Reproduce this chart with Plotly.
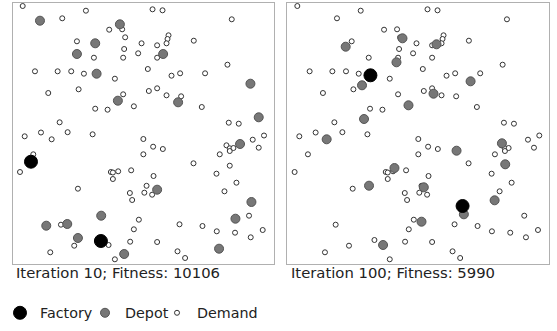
import plotly.graph_objects as go

# Map coordinates (same customer/demand locations in both iterations)
demand_x = [9.7, 49.3, 73, 96.3, 109.3, 112.3, 64, 128.7, 111.3, 81, 110.3, 125.3, 135, 22, 44.7, 58.3, 71, 102,
            65.7, 35.3, 136, 110.3, 121, 82.3, 94.7, 46.7, 28, 54.7, 79.7, 11.7, 139.7, 149.7, 219, 155.7, 154.7,
            153.7, 144.3, 181, 144.3, 158.7, 167.3, 192.3, 214.7, 144.3, 153.7, 168.3, 189, 216, 226, 251.3, 38.7,
            130.5, 20.3, 7, 130.5, 98, 100, 105.3, 118.3, 100, 65, 133.7, 117, 131.5, 119.3, 126, 48, 121, 95.7,
            61.3, 117.3, 37.3, 102, 140.3, 150, 180.7, 213.7, 217, 217, 220.7, 240, 246, 207, 217, 203.7, 223.7,
            140.7, 139.3, 211.7, 236.3, 166.7, 189.7, 204, 222.3, 238, 250, 144.3, 164.7, 172.3, 86.7]
demand_y = [258, 245.7, 253.3, 234.3, 234.7, 226.7, 222.7, 220.7, 215, 206.3, 206.3, 210.7, 195, 192.7, 192.7,
            192.7, 190.3, 185.3, 174.7, 171, 173, 169.7, 157.7, 155.3, 154.3, 141.7, 131.5, 131.8, 129.7, 127.7,
            254.7, 253.7, 244.7, 228.7, 225, 220.7, 218.7, 223.3, 206.3, 188.3, 190.7, 190.7, 199.3, 175.7, 168.7,
            167.7, 157, 141.3, 140.3, 128.5, 124.7, 125, 109.7, 92, 109.7, 92, 91.5, 92.7, 93.7, 85, 75.3, 78.2, 71,
            71.3, 64, 44.3, 39.3, 34.7, 19, 18.3, 22.3, 11.7, 4.7, 117.3, 115, 100.7, 118.7, 115.7, 113, 116, 124.3,
            116.3, 109.7, 98.3, 90.3, 81.3, 88, 69.3, 72.7, 48.3, 39.7, 38, 32.7, 31.3, 26.7, 34, 22, 12.7, 6, 24]

# Iteration 10
depot10_x = [27, 107, 82.3, 64, 83.7, 105, 150.3, 237.7, 165.3, 246, 88.3, 33.3, 54.3, 65, 111.3, 227.3, 144.3,
             238.7, 222.7, 206.3]
depot10_y = [243.3, 239.7, 220.7, 210, 190.3, 163.3, 210, 180.3, 161.7, 146.7, 48.3, 38.3, 40, 26, 10, 120, 74.3,
             62, 45.3, 15.3]
factory10_x = [18, 88]
factory10_y = [102.3, 23]

# Iteration 100
depot100_x = [58, 114.7, 108.7, 74.3, 120.7, 76.3, 148.7, 182.7, 145.7, 39, 106.7, 81.3, 136, 133.7, 95.3, 168.7,
              214, 217.3, 206.7, 176]
depot100_y = [217.3, 225.7, 201.7, 178.7, 158.7, 145, 219.7, 182.7, 170.3, 124.7, 96, 78.3, 76.7, 42.3, 19, 113.3,
              120.7, 99.7, 63.7, 49.7]
factory100_x = [82.7, 174.7]
factory100_y = [188.7, 58]

titles = ["Iteration 10; Fitness: 10106", "Iteration 100; Fitness: 5990"]

FONT = "DejaVu Sans"
fig = go.Figure()

panels = [
    ("x", "y", depot10_x, depot10_y, factory10_x, factory10_y, True),
    ("x2", "y2", depot100_x, depot100_y, factory100_x, factory100_y, False),
]
for xa, ya, dx, dy, fx, fy, show in panels:
    fig.add_trace(go.Scatter(x=demand_x, y=demand_y, mode="markers", name="Demand", xaxis=xa, yaxis=ya,
                             showlegend=show, legend="legend3",
                             marker=dict(size=5, color="white", line=dict(color="#333333", width=1))))
    fig.add_trace(go.Scatter(x=dx, y=dy, mode="markers", name="Depot", xaxis=xa, yaxis=ya,
                             showlegend=show, legend="legend2",
                             marker=dict(size=9, color="#777777", line=dict(color="#555555", width=1))))
    fig.add_trace(go.Scatter(x=fx, y=fy, mode="markers", name="Factory", xaxis=xa, yaxis=ya,
                             showlegend=show, legend="legend",
                             marker=dict(size=13, color="black", line=dict(color="black", width=1))))

W, H = 557, 331
ax_common = dict(showgrid=False, zeroline=False, showticklabels=False, ticks="", showline=True, mirror=True,
                 linecolor="#b0b0b0", linewidth=1, fixedrange=True)
ydom = [(H - 264) / H, (H - 3) / H]
leg_common = dict(orientation="h", xanchor="left", y=(H - 313) / H, yanchor="middle",
                  font=dict(family=FONT, size=14.3, color="#222222"), itemsizing="trace",
                  bgcolor="rgba(0,0,0,0)")
fig.update_layout(
    width=W, height=H,
    margin=dict(l=0, r=0, t=0, b=0),
    paper_bgcolor="white", plot_bgcolor="white",
    font=dict(family=FONT, size=14.8, color="#222222"),
    xaxis=dict(domain=[12.7 / W, 273.7 / W], range=[-0.3, 261], **ax_common),
    yaxis=dict(domain=ydom, range=[0, 261], **ax_common),
    xaxis2=dict(domain=[287.3 / W, 549 / W], range=[-0.3, 261], **ax_common),
    yaxis2=dict(domain=ydom, range=[0, 261], anchor="x2", **ax_common),
    legend=dict(x=0 / W, **leg_common),
    legend2=dict(x=85 / W, **leg_common),
    legend3=dict(x=157 / W, **leg_common),
    showlegend=True,
)
for i, (t, xp) in enumerate(zip(titles, [13.5 / W, 288.5 / W])):
    fig.add_annotation(text=t, x=xp, y=(H - 272) / H, xref="paper", yref="paper", xanchor="left",
                       yanchor="middle", showarrow=False, font=dict(family=FONT, size=14.8, color="#222222"))

fig.write_html("out.html", config={"displayModeBar": False},
               post_script="document.body.style.margin='0';")
